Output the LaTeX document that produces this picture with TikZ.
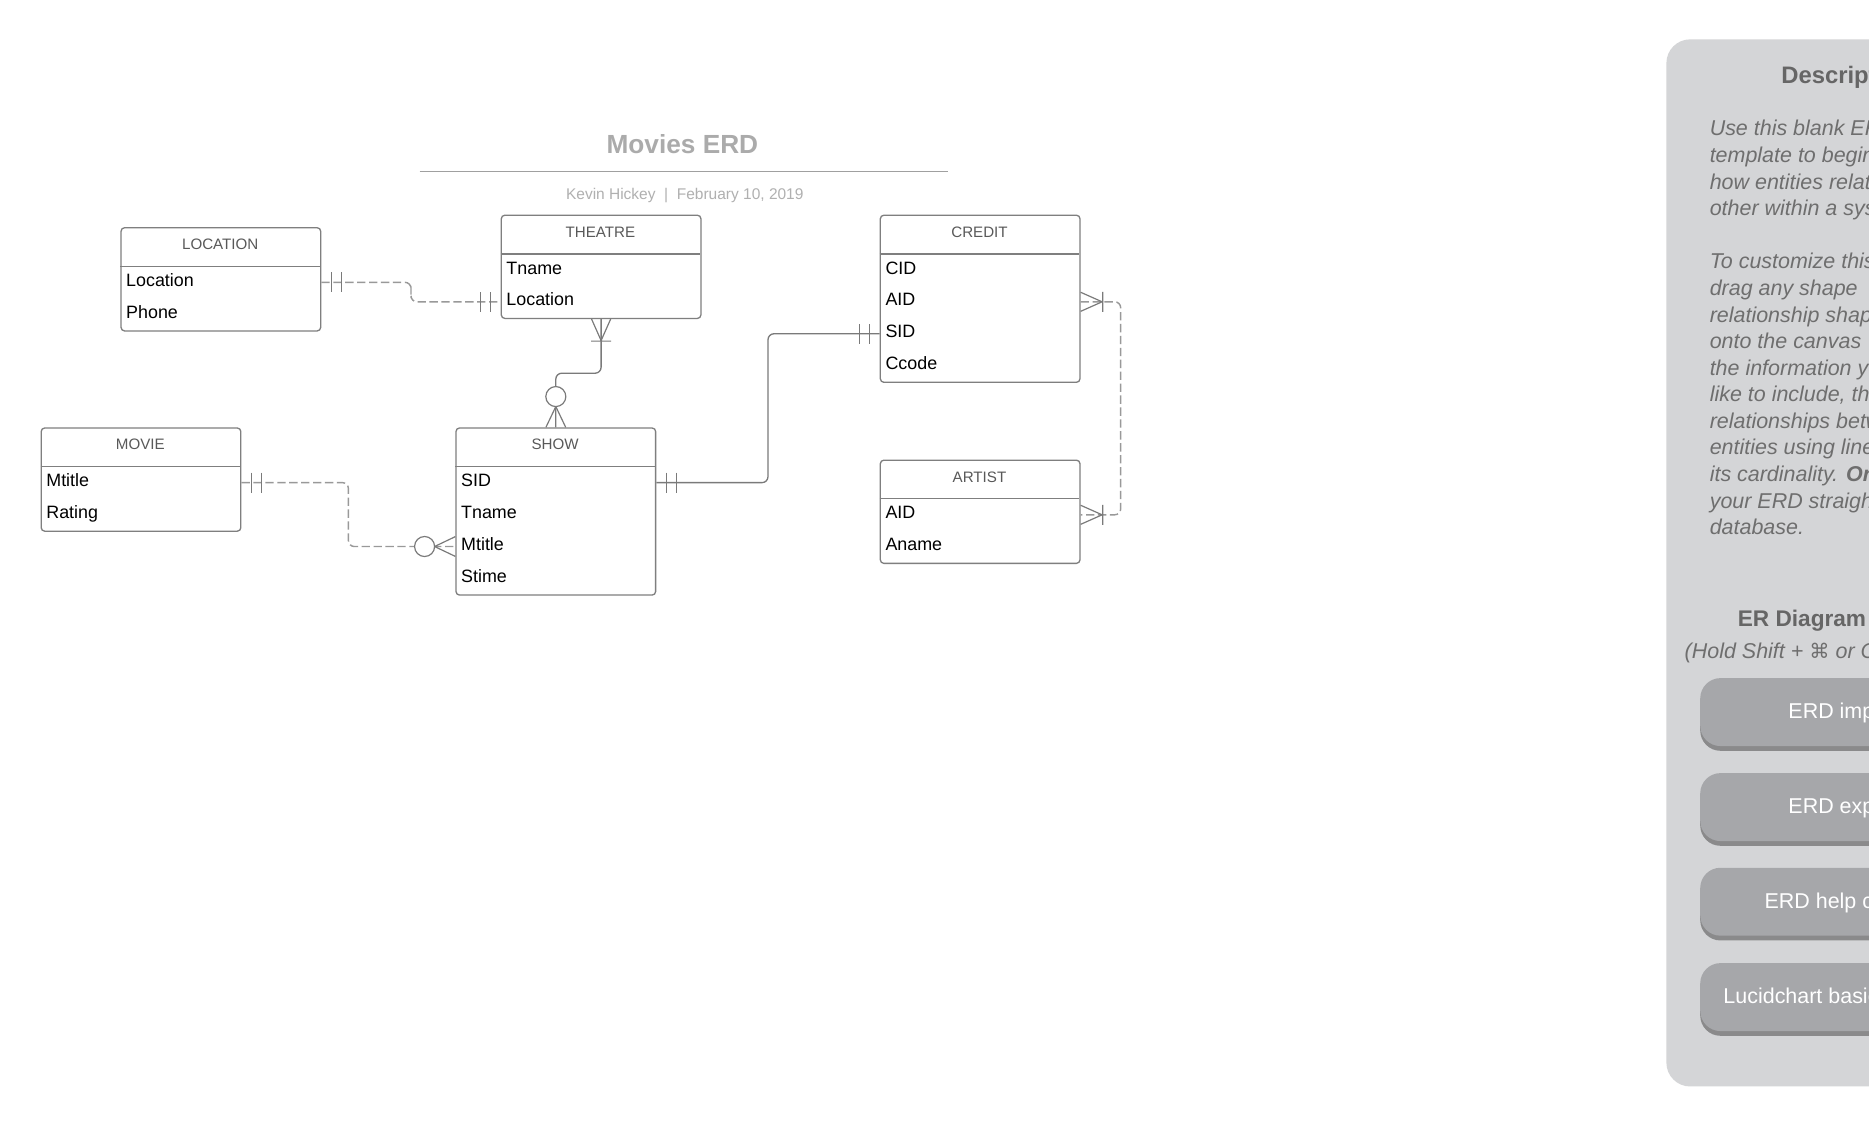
\documentclass[tikz,border=0pt]{standalone}
\usepackage{fontspec}
\setmainfont{Liberation Sans}
\newfontfamily\dejavu{DejaVu Sans}
\usetikzlibrary{calc,shadows}
\definecolor{boxgray}{HTML}{7F7F7F}
\definecolor{conngray}{HTML}{7A7A7A}
\definecolor{dashgray}{HTML}{999999}
\definecolor{hdrgray}{HTML}{595959}
\definecolor{titlegray}{HTML}{ABABAB}
\definecolor{subgray}{HTML}{B0B0B0}
\definecolor{rulegray}{HTML}{A0A0A0}
\definecolor{panelgray}{HTML}{D4D5D7}
\definecolor{btngray}{HTML}{A6A7AA}
\definecolor{paneltext}{HTML}{6E6E6E}
\definecolor{paneltitle}{HTML}{666666}

\tikzset{
  entbox/.style={draw=boxgray, line width=0.55pt, rounded corners=1.5pt, fill=white,
    minimum width=83.75pt, inner sep=0pt, anchor=north west},
  enthead/.style={anchor=base, inner sep=0pt, text=hdrgray, font=\fontsize{6.35}{7.5}\selectfont},
  entattr/.style={anchor=base west, inner sep=0pt, text=black, font=\fontsize{7.5}{9}\selectfont},
  entline/.style={draw=boxgray, line width=0.55pt},
  conn/.style={draw=conngray, line width=0.55pt, rounded corners=2.5pt},
  dconn/.style={draw=dashgray, line width=0.6pt, rounded corners=2.5pt, dash pattern=on 3.5pt off 1.5pt},
  markline/.style={draw=conngray, line width=0.5pt, solid},
  erone/.pic={\draw[markline] (8.7,-8.4) -- (8.7,8.4) (17,-8.4) -- (17,8.4);},
  ermany/.pic={\draw[markline] (0,-8) -- (18,0) -- (0,8) (18.5,-8.4) -- (18.5,8.4);},
  erzero/.pic={\draw[markline] (0,-8.3) -- (17.4,0) -- (0,8.3);
                \draw[markline, fill=white] (25.8,0) circle (8.4);},
  ptxt/.style={anchor=base west, inner sep=0pt, text=paneltext, font=\fontsize{9}{11}\selectfont\itshape},
  pbold/.style={anchor=base west, inner sep=0pt, text=paneltitle, font=\fontsize{9.5}{11}\selectfont\bfseries},
  btn/.style={fill=btngray, rounded corners=8.5pt, anchor=north west, minimum width=150pt,
    minimum height=28.5pt, inner sep=0pt,
    drop shadow={shadow xshift=0pt, shadow yshift=-2pt, opacity=0.35, fill=black}},
  btntext/.style={anchor=base west, inner sep=0pt, text=white, font=\fontsize{9}{10}\selectfont},
}

\newcommand{\erentity}[6]{%
  \node[entbox, minimum height={(33+#5*26.8)*0.5pt}] (#1) at (#2,#3) {};
  \node[enthead] (#1-h) at ({#2+83.75},{#3+19}) {#4};
  \draw[entline] ({#2},{#3+33}) -- ({#2+167.5},{#3+33});
  \foreach \a [count=\i] in {#6} {
    \coordinate (#1-r\i) at ({#2},{#3+33+(\i-0.5)*26.8});
    \node[entattr] (#1-a\i) at ({#2+4.5},{#3+33+(\i-0.5)*26.8+3.5}) {\a};
  }
}

\begin{document}
\begin{tikzpicture}[x=0.5pt, y=-0.5pt]
\useasboundingbox (0,0) rectangle (1568,946);
\fill[white] (0,0) rectangle (1568,946);

% title
\node[anchor=base, inner sep=0pt, text=titlegray, font=\fontsize{11}{13}\selectfont\bfseries] (title) at (572.5,128.9) {Movies ERD};
\draw[draw=rulegray, line width=0.6pt] (352,144) -- (795,144);
\node[anchor=base, inner sep=0pt, text=subgray, font=\fontsize{6.5}{8}\selectfont] (subtitle) at (574.5,167.6) {Kevin Hickey\ \ |\ \ February 10, 2019};

% entities
\erentity{loc}{101}{190.5}{LOCATION}{2}{Location,Phone}
\erentity{the}{420}{180}{THEATRE}{2}{Tname,Location}
\erentity{credit}{738}{180}{CREDIT}{4}{CID,AID,SID,Ccode}
\erentity{movie}{34}{358.5}{MOVIE}{2}{Mtitle,Rating}
\erentity{show}{382}{358.5}{SHOW}{4}{SID,Tname,Mtitle,Stime}
\erentity{artist}{738}{385.5}{ARTIST}{2}{AID,Aname}

% connector end points
\coordinate (p1) at (loc.east |- loc-r1);
\coordinate (p2) at (the.west |- the-r2);
\coordinate (p3) at (show.east |- show-r1);
\coordinate (p4) at (credit.west |- credit-r3);
\coordinate (p5) at (credit.east |- credit-r2);
\coordinate (p6) at (artist.east |- artist-r1);
\coordinate (p7) at (movie.east |- movie-r1);
\coordinate (p8) at (show.west |- show-r3);

% connectors
\draw[dconn] (p1) -| ($(p1)!0.5!(p2)$) |- (p2);
\draw[conn] (the.south) |- ($(the.south)!0.5!(show.north)$) -| (show.north);
\draw[conn] (p3) -| ($(p3)!0.5!(p4)$) |- (p4);
\draw[dconn] (p5) -- ++(33.6,0) |- (p6);
\draw[dconn] (p7) -| ($(p7)!0.5!(p8)$) |- (p8);

% cardinality marks
\pic at (p1) {erone};
\pic[rotate=180] at (p2) {erone};
\pic[rotate=-90] at (the.south) {ermany};
\pic[rotate=90] at (show.north) {erzero};
\pic at (p3) {erone};
\pic[rotate=180] at (p4) {erone};
\pic at (p5) {ermany};
\pic at (p6) {ermany};
\pic at (p7) {erone};
\pic[rotate=180] at (p8) {erzero};

% side panel
\begin{scope}
\clip (0,0) rectangle (1568,946);
\fill[panelgray, rounded corners=10pt] (1398,33) rectangle (1720,911.5);
\node[anchor=base west, inner sep=0pt, text=paneltitle, font=\fontsize{10}{12}\selectfont\bfseries] (ptitle) at (1494,69.9) {Description};
\foreach \t [count=\k from 0] in {Use this blank ERD,template to begin,how entities relate,other within a system,{},To customize this,drag any shape,relationship shape,onto the canvas,the information you,{like to include, then},relationships between,entities using lines,{its cardinality. \textbf{Or}},your ERD straight,database.} {
  \node[ptxt] (pl\k) at (1434,{114.1+\k*22.3}) {\t};
}
\node[pbold] (ertitle) at (1457.5,525.6) {ER Diagram};
\node[ptxt] (hold) at (1413,552.5) {(Hold Shift + {\dejavu\upshape\fontsize{8.5}{10}\selectfont ⌘} or Ctrl};
\node[btn] (b1) at (1426,568.5) {};
\node[btn] (b2) at (1426,648.2) {};
\node[btn] (b3) at (1426,727.6) {};
\node[btn] (b4) at (1426,807.6) {};
\node[btntext] (b1t) at (1500,602.8) {ERD import};
\node[btntext] (b2t) at (1500,682.6) {ERD export};
\node[btntext] (b3t) at (1480,761.8) {ERD help center};
\node[btntext] (b4t) at (1445.5,841.6) {Lucidchart basics};
\end{scope}
\end{tikzpicture}
\end{document}
